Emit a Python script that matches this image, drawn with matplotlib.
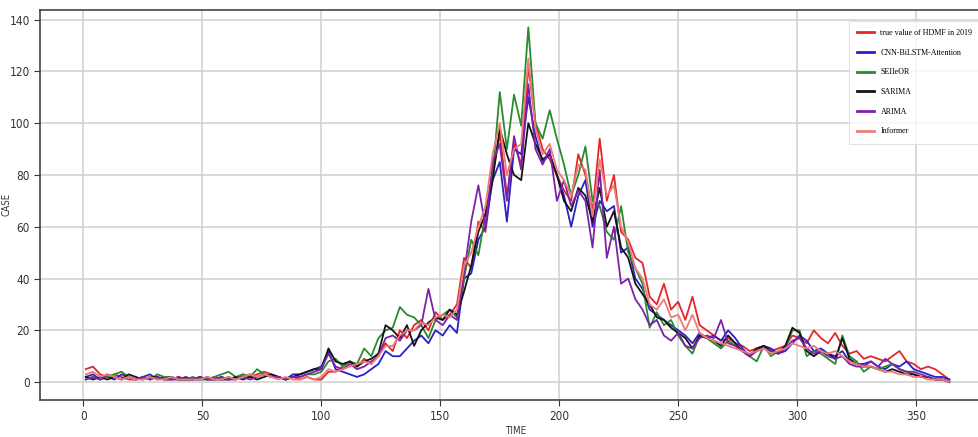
import matplotlib
matplotlib.use("Agg")
import matplotlib.pyplot as plt
from matplotlib import font_manager
import numpy as np

# sampled every 3 days (day 1, 4, ..., 364)
days = np.arange(1, 365, 3)

true_hdmf = [
    5, 6, 3, 2, 3, 2, 1, 1, 2, 1,
    2, 1, 1, 2, 1, 1, 2, 1, 2, 1,
    2, 1, 3, 2, 3, 4, 3, 2, 1, 2,
    1, 2, 1, 1, 4, 4, 6, 8, 6, 9,
    7, 11, 15, 12, 20, 17, 22, 24, 20, 27,
    24, 26, 30, 48, 44, 62, 58, 80, 96, 72,
    92, 84, 122, 100, 90, 86, 80, 74, 70, 88,
    80, 66, 94, 70, 80, 58, 55, 48, 46, 33,
    30, 38, 28, 31, 24, 33, 22, 20, 18, 16,
    17, 15, 14, 12, 13, 14, 12, 13, 14, 18,
    17, 15, 20, 17, 15, 19, 14, 11, 12, 9,
    10, 9, 8, 10, 12, 8, 7, 5, 6, 5,
    3, 1,
]

cnn_bilstm = [
    2, 3, 1, 2, 1, 3, 2, 1, 2, 3,
    1, 2, 1, 1, 2, 1, 1, 2, 1, 2,
    1, 2, 2, 3, 2, 3, 2, 2, 1, 3,
    3, 4, 5, 6, 12, 5, 4, 3, 2, 3,
    5, 7, 12, 10, 10, 13, 16, 18, 15, 20,
    18, 22, 19, 40, 42, 55, 60, 78, 85, 62,
    90, 88, 110, 95, 85, 88, 80, 72, 60, 72,
    78, 60, 70, 66, 68, 50, 52, 40, 36, 28,
    26, 24, 22, 20, 18, 15, 19, 17, 18, 16,
    20, 17, 13, 10, 12, 14, 13, 11, 12, 15,
    18, 16, 12, 13, 11, 10, 12, 8, 7, 7,
    8, 6, 5, 7, 6, 8, 5, 4, 3, 2,
    2, 1,
]

seiieor = [
    1, 2, 1, 2, 3, 4, 2, 1, 2, 1,
    3, 2, 2, 1, 1, 2, 1, 1, 2, 3,
    4, 2, 3, 2, 5, 3, 2, 2, 1, 2,
    2, 3, 3, 4, 8, 9, 6, 8, 7, 13,
    10, 17, 20, 21, 29, 26, 25, 22, 17, 24,
    26, 28, 25, 40, 55, 49, 65, 80, 112, 90,
    111, 99, 137, 100, 94, 105, 94, 84, 72, 80,
    91, 70, 68, 58, 55, 68, 50, 44, 38, 21,
    27, 22, 24, 18, 14, 11, 18, 17, 15, 13,
    16, 14, 12, 10, 8, 14, 10, 12, 13, 20,
    20, 10, 12, 11, 9, 7, 18, 10, 8, 4,
    6, 5, 6, 7, 5, 4, 3, 2, 2, 1,
    1, 0,
]

sarima = [
    2, 1, 2, 1, 2, 1, 3, 2, 1, 2,
    2, 1, 2, 1, 1, 1, 2, 1, 1, 1,
    1, 2, 1, 2, 1, 2, 3, 2, 1, 2,
    3, 4, 5, 5, 13, 8, 7, 8, 6, 8,
    9, 11, 22, 20, 17, 22, 14, 20, 23, 25,
    24, 28, 26, 35, 45, 58, 65, 78, 98, 88,
    80, 78, 100, 92, 86, 88, 80, 70, 66, 75,
    72, 62, 75, 60, 66, 52, 48, 38, 34, 30,
    25, 24, 21, 19, 17, 13, 18, 17, 16, 14,
    18, 15, 12, 10, 13, 14, 12, 11, 14, 21,
    19, 12, 10, 12, 11, 9, 17, 9, 7, 6,
    6, 5, 4, 5, 4, 3, 3, 2, 2, 1,
    1, 0,
]

arima = [
    1, 2, 1, 3, 2, 1, 2, 1, 2, 1,
    2, 1, 1, 2, 1, 1, 2, 1, 1, 2,
    1, 1, 2, 1, 2, 3, 2, 2, 1, 2,
    2, 3, 4, 5, 11, 6, 5, 7, 5, 6,
    8, 10, 17, 18, 16, 20, 20, 22, 36, 24,
    22, 26, 24, 42, 62, 76, 60, 85, 92, 70,
    95, 82, 115, 90, 84, 90, 70, 78, 68, 74,
    70, 52, 82, 48, 60, 38, 40, 32, 28, 22,
    24, 18, 16, 19, 14, 13, 17, 18, 17, 24,
    15, 14, 12, 10, 12, 13, 12, 11, 13, 16,
    17, 13, 11, 12, 10, 9, 10, 7, 6, 6,
    8, 6, 9, 7, 5, 4, 4, 3, 2, 1,
    1, 0,
]

informer = [
    3, 4, 2, 3, 2, 1, 2, 1, 1, 2,
    1, 1, 2, 1, 1, 1, 1, 2, 1, 1,
    2, 1, 2, 3, 2, 3, 2, 1, 2, 1,
    1, 2, 1, 2, 5, 4, 5, 6, 7, 8,
    7, 10, 14, 14, 18, 20, 20, 23, 22, 25,
    26, 25, 28, 45, 50, 60, 68, 88, 100, 80,
    90, 92, 125, 98, 88, 92, 82, 78, 72, 84,
    82, 64, 86, 72, 76, 60, 54, 44, 40, 30,
    28, 32, 25, 26, 20, 26, 19, 17, 16, 15,
    14, 13, 12, 11, 12, 13, 11, 12, 13, 15,
    14, 13, 14, 12, 11, 12, 10, 8, 7, 6,
    6, 5, 4, 4, 3, 3, 2, 2, 1, 1,
    1, 0,
]

series = [
    (true_hdmf, "true value of HDMF in 2019", "#e3262a"),
    (cnn_bilstm, "CNN-BiLSTM-Attention", "#2a1fc8"),
    (seiieor, "SEIIeOR", "#2a8a2e"),
    (sarima, "SARIMA", "#141414"),
    (arima, "ARIMA", "#7d22a8"),
    (informer, "Informer", "#ef7a78"),
]

# narrow sans for ticks if one is around, else DejaVu condensed
installed = {f.name for f in font_manager.fontManager.ttflist}
narrow = [n for n in ["Liberation Sans Narrow", "Arial Narrow", "DejaVu Sans"] if n in installed]
plt.rcParams["font.family"] = narrow + ["DejaVu Sans"]
plt.rcParams["font.stretch"] = "condensed"

fig = plt.figure(figsize=(9.79, 4.37), dpi=100)
ax = fig.add_axes([0.041, 0.085, 0.973, 0.893])

for values, label, color in series:
    ax.plot(days, values, color=color, lw=1.3, label=label)

ax.set_xlim(-18.2, 382.2)
ax.set_ylim(-6.85, 143.85)
ax.set_xticks(np.arange(0, 351, 50))
ax.set_yticks(np.arange(0, 141, 20))
ax.grid(True, color="#cfcfcf", lw=1.1)
ax.set_axisbelow(True)
for side in ["left", "bottom", "top", "right"]:
    ax.spines[side].set_color("#444444")
    ax.spines[side].set_linewidth(1.2)
ax.tick_params(axis="both", labelsize=8.5, colors="#333333", length=4, width=0.8)
ax.set_xlabel("TIME", fontsize=7, color="#333333")
ax.set_ylabel("CASE", fontsize=7, color="#333333")
ax.xaxis.set_label_coords(0.499, -0.068)
ax.yaxis.set_label_coords(-0.03, 0.5)

leg = ax.legend(
    loc="upper left",
    bbox_to_anchor=(845 / 979, 1 - 17 / 437),
    bbox_transform=fig.transFigure,
    prop={"family": "Liberation Serif", "size": 5.8},
    labelspacing=1.45,
    handlelength=2.1,
    borderpad=1.0,
    frameon=True,
    fancybox=False,
)
leg.get_frame().set_edgecolor("#dddddd")
leg.get_frame().set_linewidth(0.8)
for line in leg.get_lines():
    line.set_linewidth(2.0)

fig.savefig("out.png", dpi=100)
